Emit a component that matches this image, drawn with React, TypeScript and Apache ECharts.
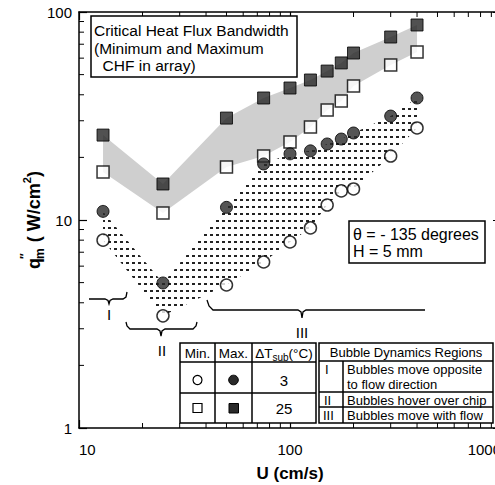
import React, { useEffect, useRef } from 'react';
import * as echarts from 'echarts';

const FONT = '"Liberation Sans", Arial, Helvetica, sans-serif';

// Flow velocity U (cm/s)
const velocity = [13, 25, 50, 75, 100, 125, 150, 175, 200, 300, 400];
// CHF (W/cm2), ΔTsub = 3 °C
const minChfDt3 = [8.0, 3.46, 4.87, 6.28, 7.84, 9.16, 11.8, 13.8, 14.1, 20.3, 27.7];
const maxChfDt3 = [11.0, 4.98, 11.5, 18.6, 20.8, 21.5, 23.2, 24.5, 26.2, 31.6, 38.6];
// CHF (W/cm2), ΔTsub = 25 °C
const minChfDt25 = [17.0, 10.8, 18.0, 20.3, 23.7, 28.0, 33.8, 37.3, 44.1, 55.6, 64.2];
const maxChfDt25 = [25.6, 14.9, 30.9, 38.6, 43.1, 47.1, 52.0, 56.9, 63.5, 75.8, 86.6];

const xMinorTicks = [20, 30, 40, 50, 60, 70, 80, 90, 200, 300, 400, 500, 600, 700, 800, 900];
const yMinorTicks = [2, 3, 4, 5, 6, 7, 8, 9, 20, 30, 40, 50, 60, 70, 80, 90];

const bandwidthLines = ['Critical Heat Flux Bandwidth', '(Minimum and Maximum', '  CHF in array)'];
const conditionLines = ['θ = - 135 degrees', 'H = 5 mm'];
const legendHeaders = ['Min.', 'Max.'];
const subcoolings = ['3', '25'];
const regionTitle = 'Bubble Dynamics Regions';
const regionNames = ['I', 'II', 'III'];
const regionDescriptions = [['Bubbles move opposite', 'to flow direction'], ['Bubbles hover over chip'], ['Bubbles move with flow']];

export default function App() {
  const ref = useRef<HTMLDivElement>(null);

  useEffect(() => {
    if (!ref.current) return;
    const chart = echarts.init(ref.current, null, { renderer: 'svg' });

    const mctx = document.createElement('canvas').getContext('2d')!;
    const measure = (t: string, font: string) => {
      mctx.font = font;
      return mctx.measureText(t).width;
    };

    const dash = document.createElement('canvas');
    dash.width = 6;
    dash.height = 7;
    const dctx = dash.getContext('2d')!;
    dctx.fillStyle = '#222';
    dctx.fillRect(0, 3, 3, 2);
    const dashPattern: any = { image: dash.toDataURL(), repeat: 'repeat', imageWidth: 6, imageHeight: 7 };

    const bandSeries = (maxArr: number[], minArr: number[], fill: any) => ({
      type: 'custom',
      coordinateSystem: 'cartesian2d',
      data: [[velocity[0], maxArr[0]]],
      silent: true,
      z: 1,
      renderItem: (_p: any, api: any) => {
        const upper = velocity.map((u, i) => api.coord([u, maxArr[i]]));
        const lower = velocity.map((u, i) => api.coord([u, minArr[i]])).reverse();
        return { type: 'polygon', shape: { points: upper.concat(lower) }, style: { fill, stroke: null } };
      },
    });

    const tline = (x1: number, y1: number, x2: number, y2: number) => ({
      type: 'line',
      shape: { x1, y1, x2, y2 },
      style: { stroke: '#000', lineWidth: 1 },
    });

    const txt = (text: string, x: number, y: number, size: number, align = 'left', weight = 'normal') => ({
      type: 'text',
      z: 110,
      style: {
        text,
        x,
        y,
        font: `${weight} ${size}px ${FONT}`,
        fill: '#000',
        textAlign: align,
        align,
        textVerticalAlign: 'middle',
        verticalAlign: 'middle',
      },
    });
    const gline = (points: number[][], w = 1.3) => ({
      type: 'polyline',
      z: 110,
      shape: { points },
      style: { stroke: '#000', lineWidth: w, fill: null },
    });
    const box = (x: number, y: number, width: number, height: number, w = 1.5) => ({
      type: 'rect',
      z: 105,
      shape: { x, y, width, height },
      style: { fill: '#fff', stroke: '#000', lineWidth: w },
    });

    // y-axis title (rotated)
    const big = `bold 18px ${FONT}`;
    const small = `bold 12px ${FONT}`;
    const sup = `bold 11px ${FONT}`;
    const wq = measure('q', big);
    const wm = measure('m', small);
    const wmain = measure(' ( W/cm', big);
    const w2 = measure('2', sup);
    const wclose = measure(')', big);
    const total = wq + wm + wmain + w2 + wclose;
    let cx = -total / 2;
    const titleChildren: any[] = [];
    const rt = (text: string, x: number, y: number, font: string) => ({
      type: 'text',
      style: { text, x, y, font, fill: '#000', textAlign: 'left', align: 'left', textVerticalAlign: 'middle', verticalAlign: 'middle' },
    });
    titleChildren.push(rt('q', cx, 0, big));
    cx += wq;
    titleChildren.push(rt('m', cx - 1, 6, small));
    titleChildren.push(rt('\u2033', cx - 1, -9, small));
    cx += wm;
    titleChildren.push(rt(' ( W/cm', cx, 0, big));
    cx += wmain;
    titleChildren.push(rt('2', cx, -7, sup));
    cx += w2;
    titleChildren.push(rt(')', cx, 0, big));

    // ΔTsub header
    const f135 = `13.5px ${FONT}`;
    const wDT = measure('ΔT', f135);
    const wSub = measure('sub', `10px ${FONT}`);
    const wC = measure('(°C)', f135);
    const dtStart = 284 - (wDT + wSub + wC) / 2;

    const graphics: any[] = [
      // bandwidth box
      box(91, 16, 206, 61),
      txt(bandwidthLines[0], 94, 30, 15.5),
      txt(bandwidthLines[1], 94, 48, 15.5),
      txt(bandwidthLines[2], 94, 65, 15.5),
      // condition box
      box(349, 221, 136, 42),
      txt(conditionLines[0], 353, 234, 16),
      txt(conditionLines[1], 353, 251, 16),
      // brackets
      gline([[89, 299], [105, 299], [108, 300.5], [109, 304], [110, 300.5], [113, 299], [123, 299], [126, 297], [127, 292]]),
      txt(regionNames[0], 109, 314, 15, 'center'),
      gline([[126, 322], [127, 326], [130, 329], [157, 329], [160, 331], [161, 336], [162, 331], [165, 329], [193, 329], [196, 326], [197, 322]]),
      txt(regionNames[1], 162, 350, 15, 'center'),
      gline([[207, 300], [209, 306], [213, 310], [298, 310], [301, 312], [302, 318], [303, 312], [306, 310], [425, 310]]),
      txt(regionNames[2], 302, 332, 15, 'center'),
      // legend table
      box(180, 343, 136, 80),
      gline([[215, 343], [215, 423]], 1.5),
      gline([[252, 343], [252, 423]], 1.5),
      gline([[180, 362], [316, 362]], 1.5),
      gline([[180, 393], [316, 393]], 1.5),
      txt(legendHeaders[0], 197.5, 353, 13.5, 'center'),
      txt(legendHeaders[1], 233.5, 353, 13.5, 'center'),
      txt('ΔT', dtStart, 353, 13.5),
      txt('sub', dtStart + wDT, 357, 10),
      txt('(°C)', dtStart + wDT + wSub, 353, 13.5),
      { type: 'circle', z: 110, shape: { cx: 197.5, cy: 380, r: 4.5 }, style: { fill: '#fff', stroke: '#000', lineWidth: 1.2 } },
      { type: 'circle', z: 110, shape: { cx: 233.5, cy: 380, r: 4.8 }, style: { fill: '#2a2a2a', stroke: '#000', lineWidth: 1 } },
      txt(subcoolings[0], 284, 380, 15, 'center'),
      { type: 'rect', z: 110, shape: { x: 193, y: 403.5, width: 9, height: 9 }, style: { fill: '#fff', stroke: '#000', lineWidth: 1.2 } },
      { type: 'rect', z: 110, shape: { x: 229, y: 403.5, width: 9.5, height: 9.5 }, style: { fill: '#2a2a2a', stroke: '#000', lineWidth: 1 } },
      txt(subcoolings[1], 284, 408, 15, 'center'),
      // regions table
      box(319, 343, 174, 80),
      gline([[319, 361], [493, 361]], 1.5),
      gline([[343, 361], [343, 423]], 1.5),
      gline([[319, 392], [493, 392]], 1.5),
      gline([[319, 407], [493, 407]], 1.5),
      txt(regionTitle, 406, 352, 13, 'center'),
      txt(regionNames[0], 325, 369, 13),
      txt(regionDescriptions[0][0], 347, 369, 13),
      txt(regionDescriptions[0][1], 347, 384, 13),
      txt(regionNames[1], 324, 400, 13),
      txt(regionDescriptions[1][0], 347, 400, 13),
      txt(regionNames[2], 323, 415.5, 13),
      txt(regionDescriptions[2][0], 347, 415.5, 13),
      // y title
      { type: 'group', x: 34, y: 220, rotation: Math.PI / 2, z: 110, children: titleChildren },
    ];

    const axisLine = { show: true, lineStyle: { color: '#000', width: 1.5 } };
    const axisTick = { show: true, inside: true, length: 8, lineStyle: { color: '#000', width: 1.2 } };
    const labelStyle = { color: '#000', fontSize: 15, fontFamily: FONT };

    chart.setOption({
      animation: false,
      backgroundColor: '#fff',
      textStyle: { fontFamily: FONT },
      grid: { left: 79, top: 12, width: 422, height: 416, containLabel: false, outerBoundsMode: 'none' },
      xAxis: [
        {
          type: 'log',
          logBase: 10,
          min: 10,
          max: 1000,
          position: 'bottom',
          axisLine,
          axisTick,
          splitLine: { show: false },
          axisLabel: {
            ...labelStyle,
            margin: 14,
            formatter: (v: number) => String(v),
            alignMinLabel: 'left',
            alignMaxLabel: 'right',
          },
          name: 'U (cm/s)',
          nameLocation: 'middle',
          nameGap: 37,
          nameTextStyle: { color: '#000', fontSize: 17, fontWeight: 'bold', fontFamily: FONT },
        },
        {
          type: 'log',
          logBase: 10,
          min: 10,
          max: 1000,
          position: 'top',
          axisLine,
          axisTick,
          splitLine: { show: false },
          axisLabel: { show: false },
        },
      ],
      yAxis: [
        {
          type: 'log',
          logBase: 10,
          min: 1,
          max: 100,
          position: 'left',
          axisLine,
          axisTick,
          splitLine: { show: false },
          axisLabel: { ...labelStyle, margin: 7, formatter: (v: number) => String(v) },
        },
        {
          type: 'log',
          logBase: 10,
          min: 1,
          max: 100,
          position: 'right',
          axisLine,
          axisTick,
          splitLine: { show: false },
          axisLabel: { show: false },
        },
      ],
      series: [
        bandSeries(maxChfDt25, minChfDt25, '#cfcfcf'),
        bandSeries(maxChfDt3, minChfDt3, dashPattern),
        {
          type: 'scatter',
          name: 'Max 25',
          data: velocity.map((u, i) => [u, maxChfDt25[i]]),
          symbol: 'rect',
          symbolSize: 12,
          itemStyle: { color: '#262626', borderColor: '#000', borderWidth: 1 },
          z: 3,
          silent: true,
        },
        {
          type: 'scatter',
          name: 'Min 25',
          data: velocity.map((u, i) => [u, minChfDt25[i]]),
          symbol: 'rect',
          symbolSize: 12,
          itemStyle: { color: '#fff', borderColor: '#000', borderWidth: 1.5 },
          z: 3,
          silent: true,
        },
        {
          type: 'scatter',
          name: 'Max 3',
          data: velocity.map((u, i) => [u, maxChfDt3[i]]),
          symbol: 'circle',
          symbolSize: 12,
          itemStyle: { color: '#2a2a2a', borderColor: '#000', borderWidth: 1 },
          z: 3,
          silent: true,
        },
        {
          type: 'scatter',
          name: 'Min 3',
          data: velocity.map((u, i) => [u, minChfDt3[i]]),
          symbol: 'circle',
          symbolSize: 12,
          itemStyle: { color: '#fff', borderColor: '#000', borderWidth: 1.5 },
          z: 3,
          silent: true,
        },
        {
          type: 'custom',
          coordinateSystem: 'cartesian2d',
          data: [[10, 1]],
          silent: true,
          z: 5,
          clip: false,
          renderItem: (_p: any, api: any) => {
            const children: any[] = [];
            for (const v of xMinorTicks) {
              const [x, yb] = api.coord([v, 1]);
              const [, yt] = api.coord([v, 100]);
              children.push(tline(x, yb, x, yb - 5), tline(x, yt, x, yt + 5));
            }
            for (const v of yMinorTicks) {
              const [xl, y] = api.coord([10, v]);
              const [xr] = api.coord([1000, v]);
              children.push(tline(xl, y, xl + 5, y), tline(xr, y, xr - 5, y));
            }
            return { type: 'group', children };
          },
        },
      ],
      graphic: { elements: graphics },
    });

    return () => chart.dispose();
  }, []);

  return (
    <div style={{ position: 'absolute', left: 0, top: 0, width: 495, height: 485, overflow: 'hidden', background: '#fff' }}>
      <div ref={ref} style={{ width: 520, height: 485 }} />
    </div>
  );
}
